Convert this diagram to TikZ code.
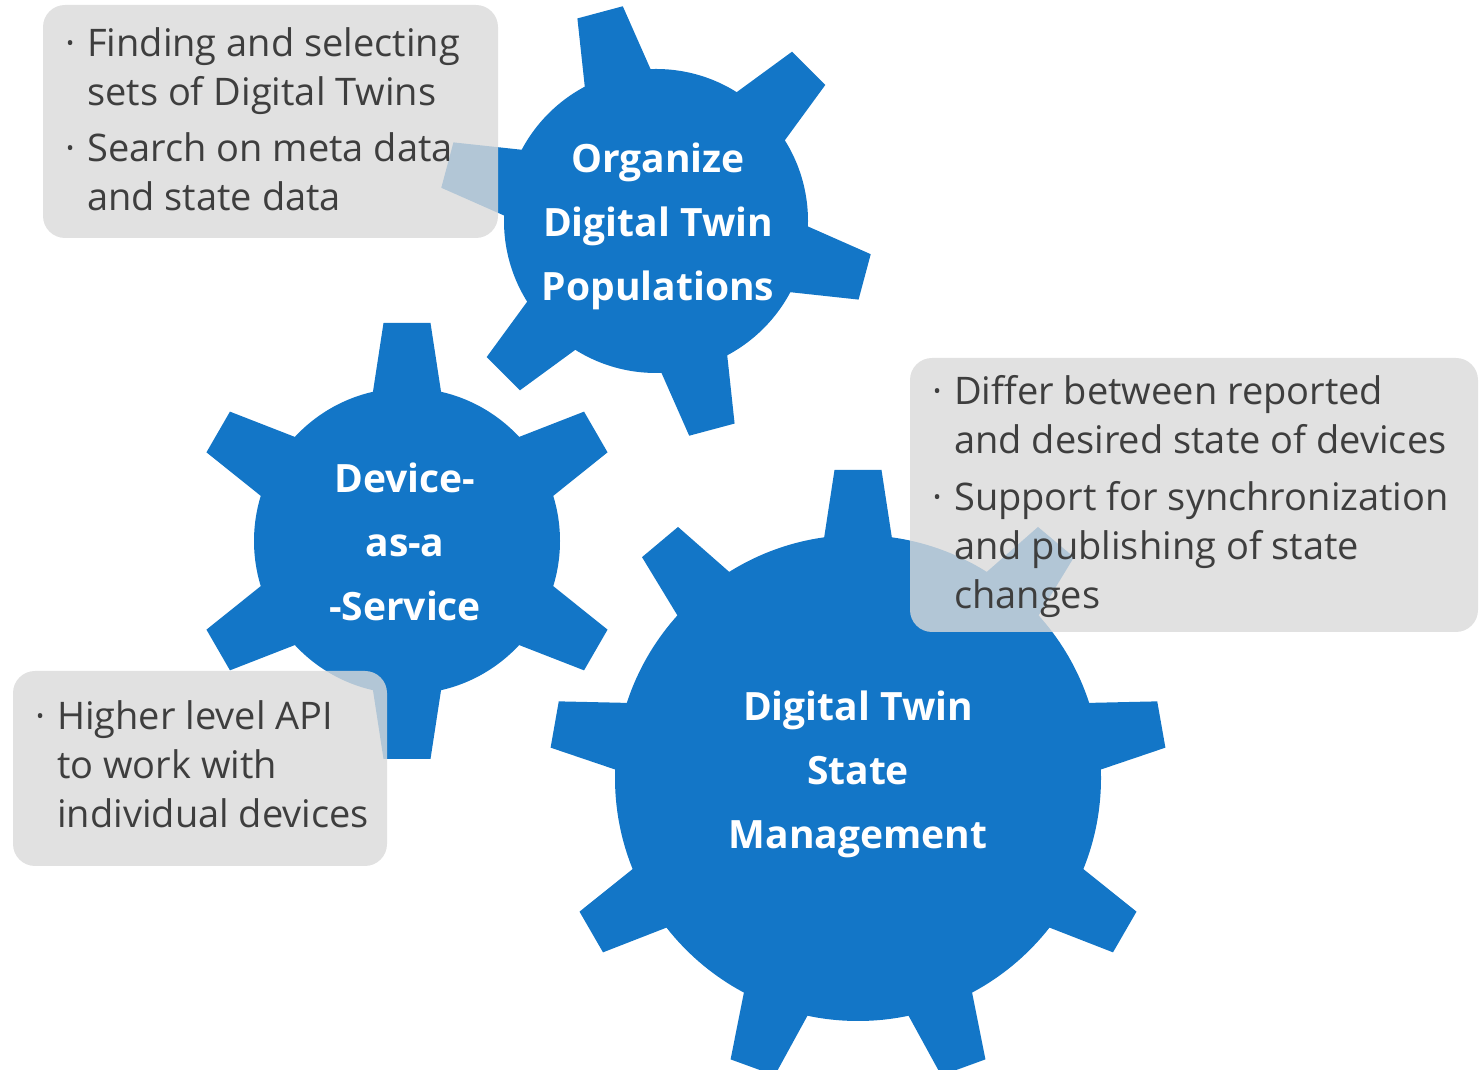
\documentclass[tikz,border=0pt]{standalone}
\usepackage{fontspec}
\setmainfont{Open Sans}
\definecolor{gearblue}{RGB}{19,118,199}
\definecolor{boxgray}{RGB}{218,218,218}
\definecolor{bodytext}{RGB}{62,62,62}
\newcommand\drawgear[6]{% cx, cy, body radius, tip radius, teeth, first angle
  \fill[gearblue] (#1,#2) circle[radius=#3pt];
  \foreach \k in {1,...,#5}{
    \pgfmathsetmacro\gang{#6+(\k-1)*360/#5}
    \fill[gearblue,shift={(#1,#2)},rotate=\gang]
      (#3-12,-35.3) -- (#4,-23.5) -- (#4,23.5) -- (#3-12,35.3) -- cycle;
  }
}
\newcommand\bul{\makebox[22pt][l]{·}}
\tikzset{
  infobox/.style={rectangle, rounded corners=22pt, fill=boxgray, fill opacity=0.8, draw=none, inner sep=0pt},
  infotext/.style={anchor=base west, inner sep=0pt, text=bodytext, font=\fontsize{38}{49}\selectfont},
  gearlabel/.style={align=center, text=white, inner sep=0pt, font=\bfseries\fontsize{39}{64}\selectfont}
}
\begin{document}
\begin{tikzpicture}[x=1pt,y=1pt]
\useasboundingbox (0,0) rectangle (1481,1070);
\clip (0,0) rectangle (1481,1070);
% gears
\drawgear{858}{292}{243}{308}{9}{90}
\drawgear{407}{529}{153}{218}{6}{30}
\drawgear{656}{849}{152}{216}{6}{45}
% labels
\node[gearlabel] (lblorg) at (658,844) {Organize\\Digital Twin\\Populations};
\node[gearlabel] (lbldev) at (405,528) {Device-\\as-a\\-Service};
\node[gearlabel] (lblstate) at (858,296) {Digital Twin\\State\\Management};
% boxes
\node[infobox, minimum width=455pt, minimum height=233pt] (box1) at (270.5,948.5) {};
\node[infobox, minimum width=568pt, minimum height=274pt] (box2) at (1194,575) {};
\node[infobox, minimum width=374pt, minimum height=195pt] (box3) at (200,301.5) {};
% texts
\node[infotext] (txt1) at (65,1013) {\begin{tabular}[t]{@{}l@{}l@{}}
\bul & Finding and selecting\\
 & sets of Digital Twins\\[7pt]
\bul & Search on meta data\\
 & and state data
\end{tabular}};
\node[infotext] (txt2) at (932,665) {\begin{tabular}[t]{@{}l@{}l@{}}
\bul & Differ between reported\\
 & and desired state of devices\\[8pt]
\bul & Support for synchronization\\
 & and publishing of state\\
 & changes
\end{tabular}};
\node[infotext] (txt3) at (35,340) {\begin{tabular}[t]{@{}l@{}l@{}}
\bul & Higher level API\\
 & to work with\\
 & individual devices
\end{tabular}};
\end{tikzpicture}
\end{document}
